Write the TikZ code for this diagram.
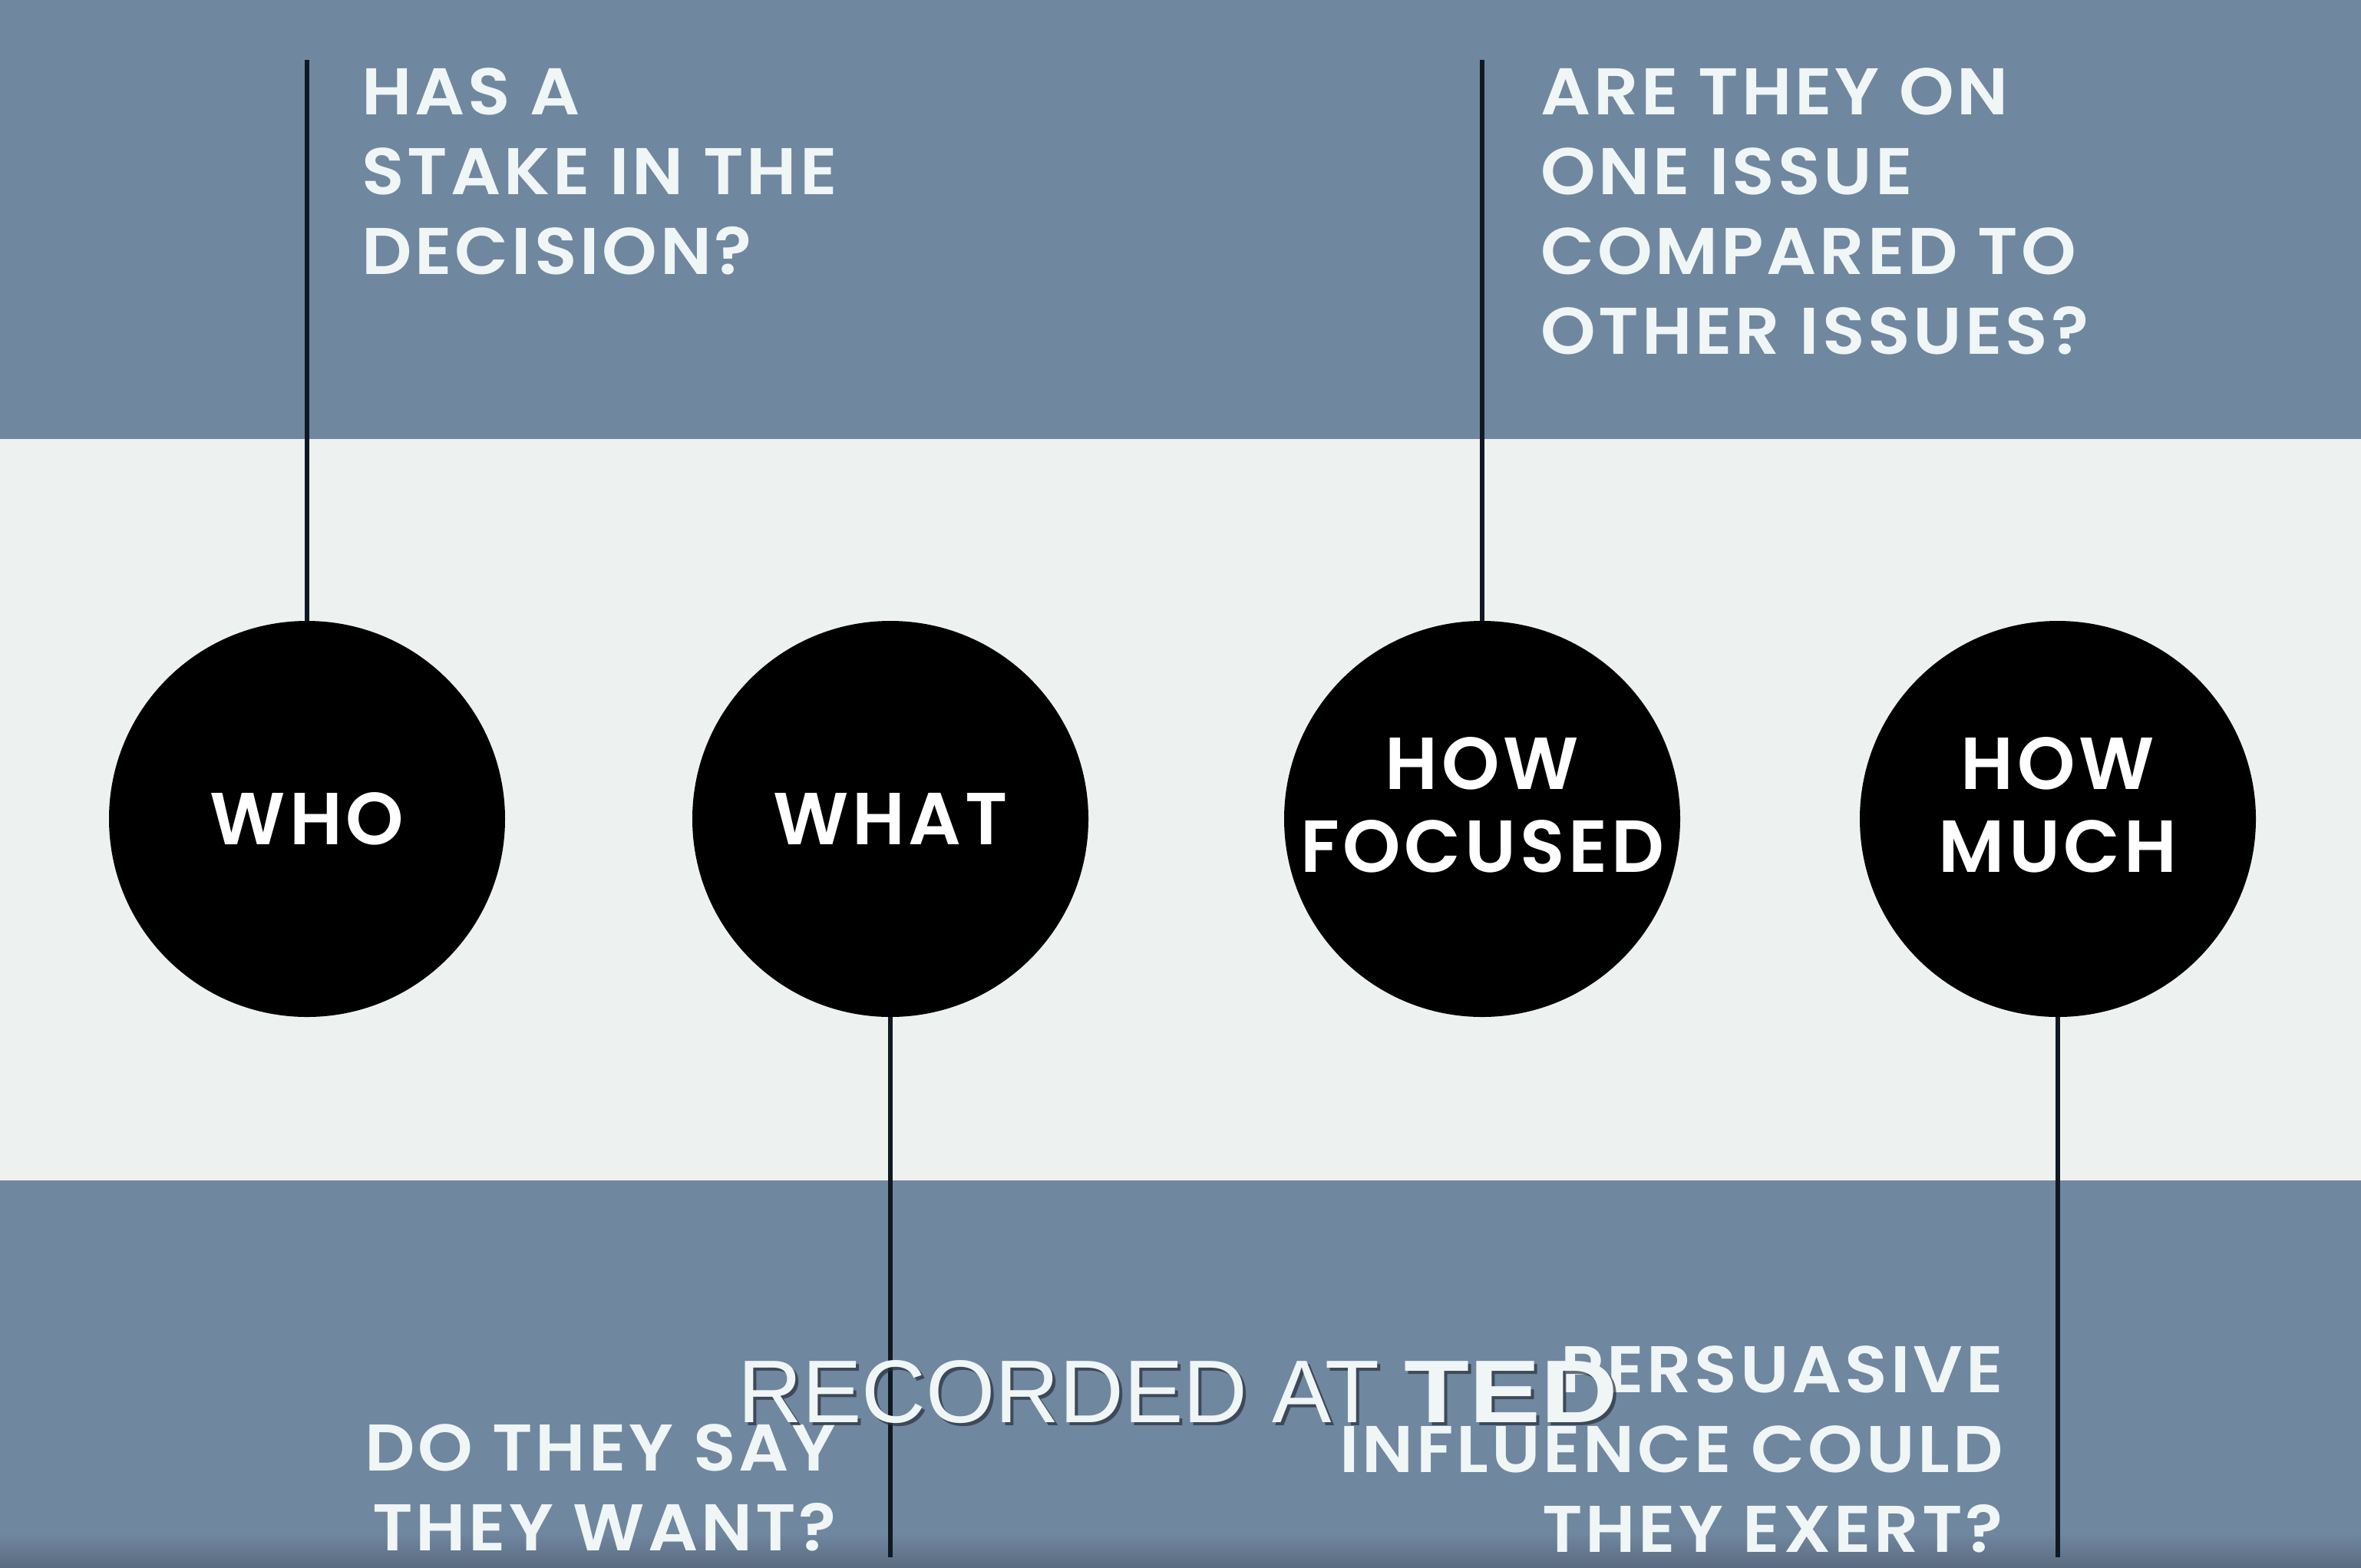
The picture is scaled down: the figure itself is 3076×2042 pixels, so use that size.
\documentclass[tikz,border=0pt]{standalone}
\usepackage{fontspec}
\newfontfamily\gotham{Poppins SemiBold}[LetterSpace=5]
\newfontfamily\gothamq{Poppins SemiBold}[LetterSpace=4.5,FakeStretch=1.06]
\newfontfamily\helv{Liberation Sans}
\definecolor{bandblue}{RGB}{112,135,160}
\definecolor{bandlight}{RGB}{237,241,240}
\definecolor{stemcol}{RGB}{16,24,36}
\definecolor{inkwhite}{RGB}{240,245,246}
\definecolor{shadowcol}{RGB}{40,48,60}
\begin{document}
\begin{tikzpicture}[x=0.5pt,y=-0.5pt,
  disc/.style={circle,fill=black,minimum size=258pt,inner sep=0pt},
  disctext/.style={inner sep=0pt,text=white,align=center,
    font=\gotham\fontsize{48}{54}\selectfont},
  question/.style={inner sep=0pt,text=inkwhite,font=\gothamq\fontsize{43}{52}\selectfont},
  stem/.style={draw=stemcol,line width=2.6pt},
  ted/.style={inner sep=0pt,anchor=base west,font=\helv\fontsize{58}{60}\selectfont}]
  \useasboundingbox (0,0) rectangle (3076,2042);
  % horizontal bands
  \fill[bandblue] (0,0) rectangle (3076,572);
  \fill[bandlight] (0,572) rectangle (3076,1538);
  \fill[bandblue] (0,1538) rectangle (3076,2042);
  \shade[top color=bandblue,bottom color=bandblue!80!black] (0,1998) rectangle (3076,2042);

  % the four discs and their titles
  \node[disc] (who) at (400,1067) {};
  \node[disc] (what) at (1160,1067) {};
  \node[disc] (focused) at (1931,1067) {};
  \node[disc] (much) at (2681,1067) {};
  \node[disctext] (whotext) at (who.center) {WHO};
  \node[disctext] (whattext) at (what.center) {WHAT};
  \node[disctext,yshift=9pt] (focusedtext) at (focused.center) {HOW\\FOCUSED};
  \node[disctext,yshift=9pt] (muchtext) at (much.center) {HOW\\MUCH};

  % stems
  \coordinate (whotop) at (400,78);
  \coordinate (focusedtop) at (1931,78);
  \coordinate (whatend) at (1160,2029);
  \coordinate (muchend) at (2681,2029);
  \draw[stem] (whotop) -- (who.north);
  \draw[stem] (focusedtop) -- (focused.north);
  \draw[stem] (what.south) -- (whatend);
  \draw[stem] (much.south) -- (muchend);

  % questions
  \node[question,anchor=north west,align=left] (qwho) at (471,88)
    {HAS A\\STAKE IN THE\\DECISION?};
  \node[question,anchor=north west,align=left] (qfocused) at (2007,88)
    {ARE THEY ON\\ONE ISSUE\\COMPARED TO\\OTHER ISSUES?};
  \node[question,anchor=north east,align=right] (qwhat) at (1090,1855)
    {DO THEY SAY\\THEY WANT?};
  \node[question,anchor=north east,align=right] (qmuch) at (2610,1753)
    {PERSUASIVE\\INFLUENCE COULD\\THEY EXERT?};

  % caption
  \node[ted,text=shadowcol,opacity=0.7] (capshadow) at (965,1857)
    {RECORDED AT \textbf{\scalebox{1.2}[1]{TED}}};
  \node[ted,text=inkwhite] (caption) at (961,1853)
    {RECORDED AT \textbf{\scalebox{1.2}[1]{TED}}};
\end{tikzpicture}
\end{document}
